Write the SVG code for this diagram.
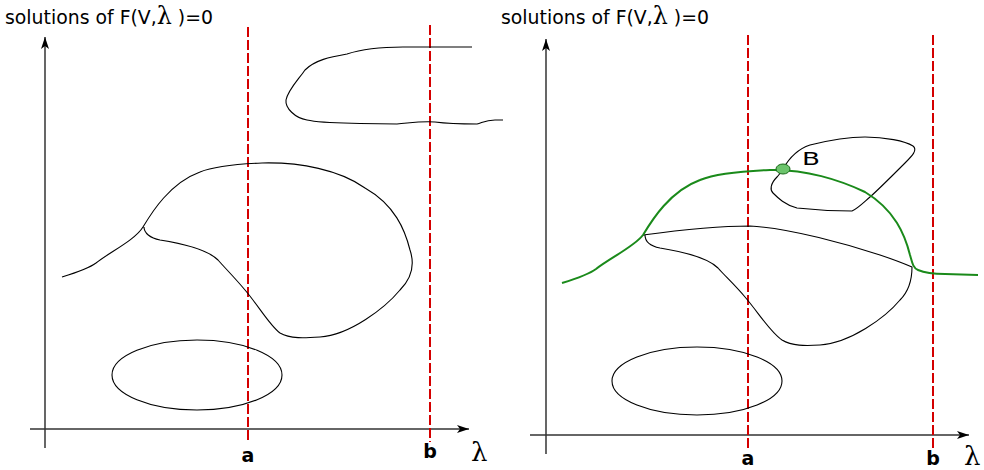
<svg xmlns="http://www.w3.org/2000/svg" width="984" height="470" viewBox="0 0 984 470">
<defs>
<marker id="arr" markerUnits="userSpaceOnUse" markerWidth="14" markerHeight="9" refX="12" refY="4" orient="auto">
<path d="M0,0 L12,4 L0,8 L3,4 z" fill="#000"/>
</marker>
<style>
.axis{stroke:#333;stroke-width:1.3;fill:none}
.tick{stroke:#000;stroke-width:1.2;fill:none}
.red{stroke:#d40000;stroke-width:2;stroke-dasharray:10,3;fill:none}
.curve{stroke:#000;stroke-width:1.1;fill:none}
.green{stroke:#1a8a1a;stroke-width:2;fill:none}
.title{font-family:"DejaVu Sans",sans-serif;font-size:19px;fill:#000}
.lam{font-family:"DejaVu Serif","Liberation Serif",serif;font-size:24px}
.lab{font-family:"DejaVu Sans",sans-serif;font-size:19px;font-weight:bold;fill:#000;text-anchor:middle}
.biglam{font-family:"DejaVu Serif","Liberation Serif",serif;font-size:26px;fill:#000}
</style>
</defs>
<g id="left-panel">
<text id="left-title" class="title" x="5" y="24" textLength="208" lengthAdjust="spacingAndGlyphs">solutions of F(V,<tspan class="lam">λ</tspan> )=0</text>
<g id="left-axes">
<line class="tick" x1="45" y1="448" x2="45" y2="37" marker-end="url(#arr)"/>
<line class="axis" x1="30" y1="429" x2="469" y2="429" marker-end="url(#arr)"/>
</g>
<g id="left-bounds">
<line class="red" x1="248" y1="27" x2="248" y2="442"/>
<line class="red" x1="430" y1="25" x2="430" y2="442"/>
</g>
<g id="left-curves">
<path class="curve" d="M472,47 L403,47 C385,47 365,48 347,54 C330,57 315,60 305,70 C298,80 288,90 286,100 C285,108 295,118 307,120 C320,123 340,123 360,123.5 L397,124 C410,123 420,121 435,122 C450,124 465,124 477,124 C482,123 485,120 495,120 L503,120"/>
<path class="curve" d="M62,277 C75,273 88,269 96,263 C110,252 135,240 143,227 C152,212 170,183 200,172 C215,166 240,164 262,163 C300,162 340,170 365,188 C395,205 405,230 410,250 C415,265 412,278 400,290 C385,308 350,335 320,337 C305,338 290,339 280,333 C270,326 258,305 245,290 C235,278 225,268 218,260 C208,250 185,244 160,240 C150,238 144,233 144,227"/>
<ellipse class="curve" cx="197" cy="375" rx="85" ry="35"/>
</g>
<text class="lab" x="248" y="462">a</text>
<text class="lab" x="430" y="458">b</text>
<text class="biglam" x="471" y="461">λ</text>
</g>
<g id="right-panel">
<text id="right-title" class="title" x="501" y="24" textLength="208" lengthAdjust="spacingAndGlyphs">solutions of F(V,<tspan class="lam">λ</tspan> )=0</text>
<g id="right-axes">
<line class="tick" x1="546" y1="454" x2="546" y2="39" marker-end="url(#arr)"/>
<line class="axis" x1="530" y1="435" x2="969" y2="435" marker-end="url(#arr)"/>
</g>
<g id="right-bounds">
<line class="red" x1="748" y1="35" x2="748" y2="448"/>
<line class="red" x1="933" y1="35" x2="933" y2="448"/>
</g>
<g id="right-curves">
<path class="curve" d="M643,235 C680,230 720,226 750,226 C790,228 850,245 880,255 C895,260 905,264 912,267 C912,280 908,292 900,300 C885,318 850,343 820,345 C805,346 792,346 782,340 C770,332 758,312 745,297 C735,285 725,276 718,268 C708,258 685,252 660,248 C650,246 645,241 645,235"/>
<path class="curve" d="M777,177 C770,184 770,190 773,193 C778,198 785,205 797,208 C815,210 840,211 852,211 C857,209 862,204 870,197 C878,190 890,178 905,163 C912,156 918,150 913,146 C905,141 885,137 865,137 C850,137 830,140 810,145 C795,150 788,160 783,169 C781,172 779,175 777,177"/>
<path class="green" d="M562,283 C575,279 588,275 596,269 C610,258 635,246 643,235 C652,220 670,191 700,180 C715,174 745,171 770,170 C805,169 840,180 865,192 C895,210 905,235 910,255 C912,262 913,268 918,270 C925,273 935,274 945,274 L978,275"/>
<ellipse class="curve" cx="697" cy="381" rx="85" ry="34"/>
</g>
<g id="B">
<ellipse cx="783" cy="169" rx="7" ry="5" fill="#6cc46c" stroke="#1a6a1a" stroke-width="1"/>
<text x="802" y="165" font-family="DejaVu Sans, sans-serif" font-size="18" textLength="18" lengthAdjust="spacingAndGlyphs" fill="#000">B</text>
</g>
<text class="lab" x="748" y="465">a</text>
<text class="lab" x="933" y="465">b</text>
<text class="biglam" x="964" y="465">λ</text>
</g>
</svg>
